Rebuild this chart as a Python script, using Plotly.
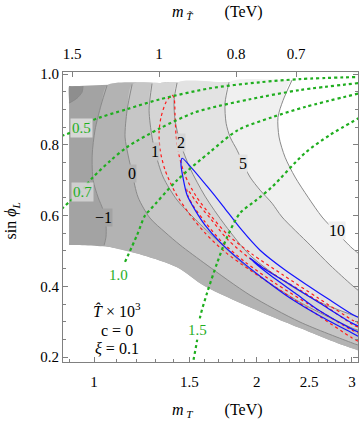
import numpy as np
import plotly.graph_objects as go

# ---- data: m_T (TeV) vs sin(phi_L) ----
# edges of the scanned region
edge_top_m = [0.899, 0.905, 1.325, 1.770, 2.324, 3.300]
edge_top_s = [0.966, 0.966, 0.975, 0.977, 0.983, 0.987]
edge_bot_m = [0.899, 0.905, 1.070, 1.232, 1.424, 1.604, 1.943, 2.404, 3.001, 3.300]
edge_bot_s = [0.517, 0.517, 0.511, 0.488, 0.454, 0.400, 0.341, 0.282, 0.225, 0.212]

# contours of T x 10^3
lvl_m2_m = [0.954, 0.950, 0.930, 0.899]
lvl_m2_s = [0.966, 0.949, 0.932, 0.918]
lvl_m1_m = [1.057, 1.030, 1.004, 0.992, 0.996, 1.017, 1.039, 1.052, 1.052, 1.044]
lvl_m1_s = [0.968, 0.912, 0.842, 0.771, 0.700, 0.652, 0.616, 0.573, 0.539, 0.517]
lvl_0_m = [1.176, 1.151, 1.141, 1.156, 1.176, 1.206, 1.269, 1.353, 1.442, 1.618, 1.943, 2.404, 3.001, 3.078]
lvl_0_s = [0.971, 0.898, 0.822, 0.771, 0.720, 0.652, 0.593, 0.553, 0.517, 0.460, 0.375, 0.299, 0.240, 0.234]
lvl_1_m = [1.280, 1.264, 1.280, 1.297, 1.342, 1.424, 1.524, 1.674, 1.927, 2.404, 3.001, 3.078]
lvl_1_s = [0.973, 0.898, 0.822, 0.780, 0.709, 0.644, 0.596, 0.536, 0.452, 0.355, 0.282, 0.276]
lvl_2_m = [1.424, 1.406, 1.412, 1.442, 1.505, 1.604, 1.747, 1.943, 2.304, 2.618, 3.001, 3.078]
lvl_2_s = [0.975, 0.926, 0.870, 0.808, 0.734, 0.655, 0.573, 0.488, 0.403, 0.355, 0.319, 0.313]
lvl_5_m = [1.777, 1.747, 1.755, 1.785, 1.839, 1.886, 1.943, 2.028, 2.134, 2.227, 2.509, 2.732, 3.001, 3.078]
lvl_5_s = [0.977, 0.918, 0.861, 0.822, 0.785, 0.748, 0.709, 0.672, 0.635, 0.596, 0.517, 0.460, 0.403, 0.389]
lvl_10_m = [2.324, 2.237, 2.189, 2.199, 2.256, 2.354, 2.488, 2.641, 2.815, 3.001, 3.078]
lvl_10_s = [0.983, 0.926, 0.878, 0.822, 0.765, 0.709, 0.652, 0.596, 0.551, 0.508, 0.494]

# fit limits (red dashed, blue solid)
red1_m = [3.078, 3.001, 2.563, 2.208, 1.943, 1.747, 1.604, 1.492, 1.412, 1.353, 1.325, 1.319, 1.330, 1.359, 1.394,
          1.406, 1.412, 1.418, 1.436, 1.473, 1.544, 1.646, 1.770, 1.960, 2.237, 2.596, 3.001, 3.078]
red1_s = [0.245, 0.254, 0.324, 0.389, 0.446, 0.497, 0.551, 0.610, 0.666, 0.729, 0.785, 0.836, 0.878, 0.921, 0.941,
          0.932, 0.884, 0.828, 0.771, 0.714, 0.655, 0.599, 0.545, 0.491, 0.432, 0.367, 0.305, 0.296]
red2_m = [3.078, 3.001, 2.618, 2.237, 1.960, 1.770, 1.639, 1.537, 1.486, 1.492, 1.531, 1.604, 1.725, 1.902, 2.162, 2.509, 3.001, 3.078]
red2_s = [0.285, 0.293, 0.355, 0.418, 0.474, 0.531, 0.593, 0.644, 0.675, 0.655, 0.624, 0.582, 0.525, 0.469, 0.409, 0.347, 0.276, 0.268]
blue1_m = [3.078, 3.001, 2.732, 2.509, 2.256, 2.028, 1.862, 1.732, 1.618, 1.505, 1.455,
           1.448, 1.461, 1.486, 1.537, 1.604, 1.710, 1.862, 2.072, 2.304, 2.618, 3.001, 3.078]
blue1_s = [0.313, 0.321, 0.361, 0.398, 0.446, 0.502, 0.565, 0.627, 0.683, 0.740, 0.762,
           0.746, 0.706, 0.658, 0.616, 0.573, 0.525, 0.474, 0.418, 0.367, 0.316, 0.268, 0.259]
blue2_m = [3.078, 3.001, 2.618, 2.304, 2.072, 1.943, 1.985, 2.116, 2.354, 2.618, 3.001, 3.078]
blue2_s = [0.288, 0.296, 0.352, 0.405, 0.448, 0.480, 0.466, 0.432, 0.381, 0.330, 0.279, 0.271]

# m_Ttilde contours (green dotted)
g05_m = [0.870, 0.946, 0.996, 1.151, 1.325, 1.639, 2.028, 2.404, 3.100]
g05_s = [0.825, 0.847, 0.870, 0.901, 0.929, 0.960, 0.977, 0.986, 0.992]
g07_m = [0.870, 0.903, 0.942, 0.996, 1.070, 1.151, 1.325, 1.524, 1.639, 1.943, 2.404, 3.100]
g07_s = [0.618, 0.641, 0.666, 0.709, 0.754, 0.794, 0.847, 0.890, 0.904, 0.929, 0.955, 0.975]
g10_m = [1.141, 1.201, 1.243, 1.269, 1.424, 1.639, 1.847, 2.134, 2.456, 3.100]
g10_s = [0.469, 0.545, 0.601, 0.616, 0.700, 0.780, 0.842, 0.878, 0.907, 0.946]
g15_m = [1.520, 1.551, 1.571, 1.618, 1.689, 1.762, 1.862, 1.985, 2.134, 2.456, 2.732, 3.100]
g15_s = [0.175, 0.248, 0.313, 0.381, 0.466, 0.539, 0.607, 0.641, 0.681, 0.777, 0.828, 0.877]

# labels
lvl_text = ["\u22121", "0", "1", "2", "5", "10"]
lvl_lab_m = [1.039, 1.176, 1.297, 1.448, 1.886, 2.815]
lvl_lab_s = [0.596, 0.720, 0.780, 0.808, 0.748, 0.559]
g_text = ["0.5", "0.7", "1.0", "1.5"]
g_lab_m = [0.946, 0.950, 1.108, 1.551]
g_lab_s = [0.847, 0.666, 0.432, 0.276]

# ticks
bot_vals = [1, 1.5, 2, 2.5, 3]
bot_text = ["1", "1.5", "2", "2.5", "3"]
bot_minor = [0.9, 1.1, 1.2, 1.3, 1.4, 1.6, 1.7, 1.8, 1.9, 2.1, 2.2, 2.3, 2.4, 2.6, 2.7, 2.8, 2.9]
top_vals = [0.911, 1.319, 1.831, 2.364]   # m_T positions of the m_Ttilde ticks
top_text = ["1.5", "1", "0.8", "0.7"]

shade = ["#a3a3a3", "#8e8e8e", "#b3b3b3", "#c6c6c6", "#d5d5d5", "#e3e3e3", "#f0f0f0", "#ffffff"]
lab_bg = ["#a3a3a3", "#b3b3b3", "#c6c6c6", "#d5d5d5", "#e3e3e3", "#f0f0f0"]
GREEN = "#1fae1f"
FONT = "Liberation Serif, Times New Roman, Times, serif"
XMIN, XMAX = 0.876, 3.078

fig = go.Figure()


def area(xs, ys, color):
    fig.add_trace(go.Scatter(x=xs, y=ys, mode="lines", fill="toself", fillcolor=color,
                             line=dict(width=0, shape="spline", smoothing=0.8),
                             hoverinfo="skip", showlegend=False))


def upper_part(cm, cs, on_bottom=False):
    xs, ys = list(cm), list(cs)
    if on_bottom:
        for m, s in zip(edge_bot_m, edge_bot_s):
            if m > cm[-1] + 0.01:
                xs.append(m); ys.append(s)
    else:
        xs.append(3.3); ys.append(cs[-1])
    for m, s in reversed(list(zip(edge_top_m, edge_top_s))):
        if m > cm[0] + 0.01:
            xs.append(m); ys.append(s)
    xs.append(cm[0]); ys.append(cs[0])
    return xs, ys


# whole region
dom_x = edge_top_m + [3.3] + edge_bot_m[::-1] + [0.899, 0.899, 0.899]
dom_y = edge_top_s + [0.212] + edge_bot_s[::-1] + [0.523, 0.960, 0.966]
area(dom_x, dom_y, shade[0])
# corner below -2
area([0.899, 0.905] + lvl_m2_m[:1] + lvl_m2_m + [0.899, 0.899],
     [0.966, 0.966] + lvl_m2_s[:1] + lvl_m2_s + [0.924, 0.966], shade[1])
area(*upper_part(lvl_m1_m, lvl_m1_s, on_bottom=True), shade[2])
for (cm, cs), col in zip([(lvl_0_m, lvl_0_s), (lvl_1_m, lvl_1_s), (lvl_2_m, lvl_2_s),
                          (lvl_5_m, lvl_5_s), (lvl_10_m, lvl_10_s)], shade[3:]):
    area(*upper_part(cm, cs), col)

for cm, cs in [(lvl_m2_m, lvl_m2_s), (lvl_m1_m, lvl_m1_s), (lvl_0_m, lvl_0_s), (lvl_1_m, lvl_1_s),
               (lvl_2_m, lvl_2_s), (lvl_5_m, lvl_5_s), (lvl_10_m, lvl_10_s)]:
    fig.add_trace(go.Scatter(x=cm, y=cs, mode="lines", hoverinfo="skip", showlegend=False,
                             line=dict(color="#8a8a8a", width=1, shape="spline", smoothing=0.8)))

for cm, cs in [(red1_m, red1_s), (red2_m, red2_s)]:
    fig.add_trace(go.Scatter(x=cm, y=cs, mode="lines", hoverinfo="skip", showlegend=False,
                             line=dict(color="#ff1a1a", width=1.2, dash="3px,3px", shape="spline", smoothing=0.8)))
for cm, cs in [(blue1_m, blue1_s), (blue2_m, blue2_s)]:
    fig.add_trace(go.Scatter(x=cm, y=cs, mode="lines", hoverinfo="skip", showlegend=False,
                             line=dict(color="#1414ff", width=1.2, shape="spline", smoothing=0.8)))

for cm, cs in [(g05_m, g05_s), (g07_m, g07_s), (g10_m, g10_s), (g15_m, g15_s)]:
    fig.add_trace(go.Scatter(x=cm, y=cs, mode="lines", hoverinfo="skip", showlegend=False,
                             line=dict(color=GREEN, width=2.2, dash="3px,3px", shape="spline", smoothing=0.8)))

# invisible trace so the top axis is drawn
fig.add_trace(go.Scatter(x=[1, 2], y=[0.5, 0.5], xaxis="x2", mode="markers",
                         marker=dict(opacity=0), hoverinfo="skip", showlegend=False))

ann = []
for t, m, s, bg in zip(lvl_text, lvl_lab_m, lvl_lab_s, lab_bg):
    ann.append(dict(x=np.log10(m), y=s, xref="x", yref="y", text=t, showarrow=False,
                    font=dict(family=FONT, size=16, color="black"), bgcolor=bg, borderpad=0))
g_bg = ["rgba(225,225,225,0.85)", "rgba(215,215,215,0.85)", "white", "white"]
for t, m, s, bg in zip(g_text, g_lab_m, g_lab_s, g_bg):
    ann.append(dict(x=np.log10(m), y=s, xref="x", yref="y", text=t, showarrow=False,
                    font=dict(family=FONT, size=15, color=GREEN), bgcolor=bg, borderpad=1))

ann += [
    dict(x=np.log10(1.103), y=0.333, xref="x", yref="y", showarrow=False,
         text="<i>T\u0302</i> \u00d7 10<sup>3</sup>", font=dict(family=FONT, size=16, color="black")),
    dict(x=np.log10(1.103), y=0.276, xref="x", yref="y", showarrow=False,
         text="c = 0", font=dict(family=FONT, size=16, color="black")),
    dict(x=np.log10(1.103), y=0.225, xref="x", yref="y", showarrow=False,
         text="<i>\u03be</i> = 0.1", font=dict(family=FONT, size=16, color="black")),
    dict(x=0.362, y=-0.168, xref="paper", yref="paper", xanchor="left", yanchor="middle", showarrow=False,
         text="<i>m</i><sub> <i>T</i></sub>        (TeV)", font=dict(family=FONT, size=16, color="black")),
    dict(x=0.362, y=1.205, xref="paper", yref="paper", xanchor="left", yanchor="middle", showarrow=False,
         text="<i>m</i><sub> <i>T\u0303</i></sub>        (TeV)", font=dict(family=FONT, size=16, color="black")),
    dict(x=-0.175, y=0.486, xref="paper", yref="paper", xanchor="center", yanchor="middle", showarrow=False,
         textangle=-90, text="sin <i>\u03d5</i><sub><i>L</i></sub>", font=dict(family=FONT, size=16, color="black")),
]

axis_common = dict(showgrid=False, zeroline=False, showline=True, linecolor="#808080", linewidth=1,
                   ticks="inside", tickcolor="#808080", ticklen=5,
                   tickfont=dict(family=FONT, size=15, color="black"))

fig.update_layout(
    width=359, height=421, margin=dict(l=63, r=1, t=72, b=59),
    plot_bgcolor="white", paper_bgcolor="white", showlegend=False,
    font=dict(family=FONT),
    annotations=ann,
    xaxis=dict(type="log", range=[np.log10(XMIN), np.log10(XMAX)], tickmode="array",
               tickvals=bot_vals, ticktext=bot_text, ticklabelstandoff=6,
               minor=dict(tickvals=bot_minor, ticks="inside", ticklen=3, tickcolor="#808080"),
               **axis_common),
    xaxis2=dict(type="log", range=[np.log10(XMIN), np.log10(XMAX)], overlaying="x", side="top",
                tickmode="array", tickvals=top_vals, ticktext=top_text, ticklabelstandoff=6,
                **axis_common),
    yaxis=dict(range=[0.186, 1.006], tickmode="array", tickvals=[0.2, 0.4, 0.6, 0.8, 1.0],
               ticktext=["0.2", "0.4", "0.6", "0.8", "1.0"], mirror="ticks",
               minor=dict(dtick=0.05, ticks="inside", ticklen=3, tickcolor="#808080"),
               **axis_common),
)

fig.write_html("out.html", config={"displayModeBar": False},
               post_script="document.body.style.margin='0px';")
